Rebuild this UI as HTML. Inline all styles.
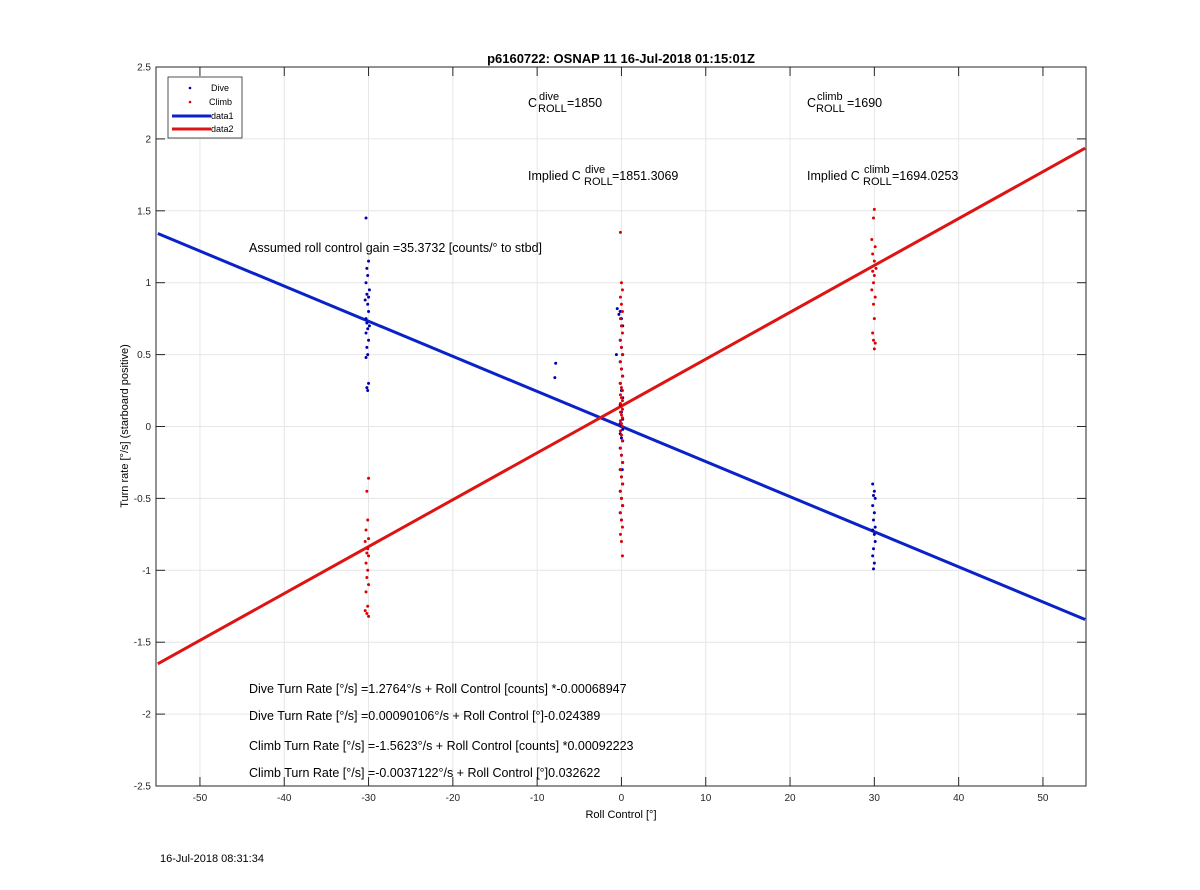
<!DOCTYPE html>
<html><head><meta charset="utf-8"><style>
body{margin:0;background:#fff;}
svg text{font-family:"Liberation Sans",Arial,sans-serif;}
</style></head><body>
<svg width="1200" height="885" xmlns="http://www.w3.org/2000/svg">
<rect width="1200" height="885" fill="#fff"/>
<g id="grid"></g>
<g id="lines"></g>
<g id="pts"></g>
<rect x="156" y="67" width="930" height="719" fill="none" stroke="#262626" stroke-width="1"/>
<g id="ticks"></g>
<text x="621" y="63" text-anchor="middle" font-size="13" font-weight="bold">p6160722: OSNAP 11 16-Jul-2018 01:15:01Z</text>
<text x="621" y="818" text-anchor="middle" font-size="11">Roll Control [°]</text>
<text transform="translate(128,426) rotate(-90)" text-anchor="middle" font-size="11">Turn rate [°/s] (starboard positive)</text>
<text x="160" y="862" font-size="11">16-Jul-2018 08:31:34</text>
<g font-size="12.5">
<text x="528" y="107">C</text><text x="539" y="100" font-size="11">dive</text><text x="538" y="112" font-size="11">ROLL</text><text x="567" y="107">=1850</text>
<text x="807" y="107">C</text><text x="817" y="100" font-size="11">climb</text><text x="816" y="112" font-size="11">ROLL</text><text x="847" y="107">=1690</text>
<text x="528" y="180">Implied C</text><text x="585" y="173" font-size="11">dive</text><text x="584" y="185" font-size="11">ROLL</text><text x="612" y="180">=1851.3069</text>
<text x="807" y="180">Implied C</text><text x="864" y="173" font-size="11">climb</text><text x="863" y="185" font-size="11">ROLL</text><text x="892" y="180">=1694.0253</text>
<text x="249" y="252">Assumed roll control gain =35.3732 [counts/° to stbd]</text>
<text x="249" y="693">Dive Turn Rate [°/s] =1.2764°/s + Roll Control [counts] *-0.00068947</text>
<text x="249" y="720">Dive Turn Rate [°/s] =0.00090106°/s + Roll Control [°]-0.024389</text>
<text x="249" y="750">Climb Turn Rate [°/s] =-1.5623°/s + Roll Control [counts] *0.00092223</text>
<text x="249" y="777">Climb Turn Rate [°/s] =-0.0037122°/s + Roll Control [°]0.032622</text>
</g>
<g>
<rect x="168" y="77" width="74" height="61" fill="#fff" stroke="#262626" stroke-width="0.8"/>
<circle cx="190" cy="88" r="1.3" fill="#0000b0"/><text x="211" y="91" font-size="9">Dive</text>
<circle cx="190" cy="102" r="1.3" fill="#e00000"/><text x="209" y="105" font-size="9">Climb</text>
<line x1="172" y1="116" x2="211" y2="116" stroke="#0a22c8" stroke-width="3"/><text x="211" y="119" font-size="9">data1</text>
<line x1="172" y1="129" x2="211" y2="129" stroke="#dd1414" stroke-width="3"/><text x="211" y="132" font-size="9">data2</text>
</g>
</svg>
<script>
const xTicks=[-50,-40,-30,-20,-10,0,10,20,30,40,50];
const yTicks=[2.5,2,1.5,1,0.5,0,-0.5,-1,-1.5,-2,-2.5];
const yTickLabels=["2.5","2","1.5","1","0.5","0","-0.5","-1","-1.5","-2","-2.5"];
const diveLine=[[-55,1.342],[55,-1.342]];
const climbLine=[[-55,-1.65],[55,1.935]];
const diveX30n=[-30.3,-30,-30.2,-30.1,-30.3,-29.9,-30.2,-30,-30.4,-30.1,-30,-30.3,-30.2,-29.9,-30.1,-30.3,-30,-30.2,-30.1,-30.3,-30,-30.2,-30.1];
const diveY30n=[1.45,1.15,1.1,1.05,1.0,0.95,0.92,0.9,0.88,0.85,0.8,0.75,0.72,0.7,0.68,0.65,0.6,0.55,0.5,0.48,0.3,0.27,0.25];
const diveX30p=[29.8,30,29.9,30.1,29.8,30,29.9,30.1,29.8,30,30.1,29.9,29.8,30,29.9];
const diveY30p=[-0.4,-0.45,-0.48,-0.5,-0.55,-0.6,-0.65,-0.7,-0.72,-0.75,-0.8,-0.85,-0.9,-0.95,-0.99];
const diveXmid=[-7.8,-7.9,-0.5,-0.3,-0.6,0.1];
const diveYmid=[0.44,0.34,0.82,0.78,0.5,-0.3];
const diveY0=[0.8,0.75,0.7,0.6,0.55,0.5,0.45,0.4,0.35,0.3,0.25,0.2,0.15,0.1,0.05,0.02,0,-0.02,-0.05,-0.08,-0.1,-0.15,-0.2,-0.25,-0.3,-0.35,-0.4,-0.45,-0.5,-0.55,-0.6,-0.65];
const climbX30n=[-30,-30.2,-30.1,-30.3,-30,-30.4,-30.1,-30.2,-30,-30.3,-30.1,-30.2,-30,-30.3,-30.1,-30.4,-30.2,-30];
const climbY30n=[-0.36,-0.45,-0.65,-0.72,-0.78,-0.8,-0.85,-0.88,-0.9,-0.95,-1.0,-1.05,-1.1,-1.15,-1.25,-1.28,-1.3,-1.32];
const climbX30p=[30,29.9,29.7,30.1,29.8,30,30.2,29.8,30,29.9,29.7,30.1,29.9,30,29.8,29.9,30.1,30];
const climbY30p=[1.51,1.45,1.3,1.25,1.2,1.15,1.1,1.08,1.05,1.0,0.95,0.9,0.85,0.75,0.65,0.6,0.58,0.54];
const climbY0=[1.35,1.0,0.95,0.9,0.85,0.8,0.75,0.7,0.65,0.6,0.55,0.5,0.45,0.4,0.35,0.3,0.27,0.25,0.22,0.2,0.18,0.16,0.14,0.12,0.1,0.08,0.06,0.04,0.02,0,-0.03,-0.06,-0.1,-0.15,-0.2,-0.25,-0.3,-0.35,-0.4,-0.45,-0.5,-0.55,-0.6,-0.65,-0.7,-0.75,-0.8,-0.9];

const NS="http://www.w3.org/2000/svg";
const X0=157.8,XS=8.43,Y0=426.5,YS=143.8;
function sx(v){return X0+(v+55)*XS;}
function sy(v){return Y0-v*YS;}
function mk(tag,attrs,parent){const e=document.createElementNS(NS,tag);for(const k in attrs)e.setAttribute(k,attrs[k]);document.getElementById(parent).appendChild(e);return e;}
xTicks.forEach(t=>{
  const g=mk('line',{x1:sx(t),x2:sx(t),y1:67,y2:786,stroke:'#e6e6e6','stroke-width':1},'grid');
  
  
  mk('line',{x1:sx(t),x2:sx(t),y1:786,y2:777,stroke:'#262626'},'ticks');
  mk('line',{x1:sx(t),x2:sx(t),y1:67,y2:76,stroke:'#262626'},'ticks');
  const tx=mk('text',{x:sx(t),y:801,'text-anchor':'middle','font-size':10,fill:'#262626'},'ticks');
  tx.textContent=String(t);
  
  
});
yTicks.forEach((t,i)=>{
  const g=mk('line',{x1:156,x2:1086,y1:sy(t),y2:sy(t),stroke:'#e6e6e6','stroke-width':1},'grid');
  
  
  mk('line',{x1:156,x2:165,y1:sy(t),y2:sy(t),stroke:'#262626'},'ticks');
  mk('line',{x1:1077,x2:1086,y1:sy(t),y2:sy(t),stroke:'#262626'},'ticks');
  const tx=mk('text',{x:151,y:sy(t)+3.5,'text-anchor':'end','font-size':10,fill:'#262626'},'ticks');
  tx.textContent=yTickLabels[i];
  
  
});
function line(d,c,name){
  const l=mk('line',{x1:sx(d[0][0]),y1:sy(d[0][1]),x2:sx(d[1][0]),y2:sy(d[1][1]),stroke:c,'stroke-width':3},'lines');
  
  
}
line(diveLine,'#0a22c8','dive-fit-line');
line(climbLine,'#dd1414','climb-fit-line');
function pts(xs,ys,c,name){
  ys.forEach((y,i)=>{
    const p=mk('circle',{cx:sx(xs[i]),cy:sy(y),r:1.5,fill:c},'pts');
    
    
  });
}
pts(diveX30n,diveY30n,'#0000b0','dive-point');
pts(diveX30p,diveY30p,'#0000b0','dive-point');
pts(diveXmid,diveYmid,'#0000b0','dive-point');
pts(diveY0.map((_,i)=>(i%3-1)*0.15),diveY0,'#0000b0','dive-point');
pts(climbX30n,climbY30n,'#e00000','climb-point');
pts(climbX30p,climbY30p,'#e00000','climb-point');
pts(climbY0.map((_,i)=>(i%3-1)*0.12),climbY0,'#e00000','climb-point');
</script>
</body></html>
